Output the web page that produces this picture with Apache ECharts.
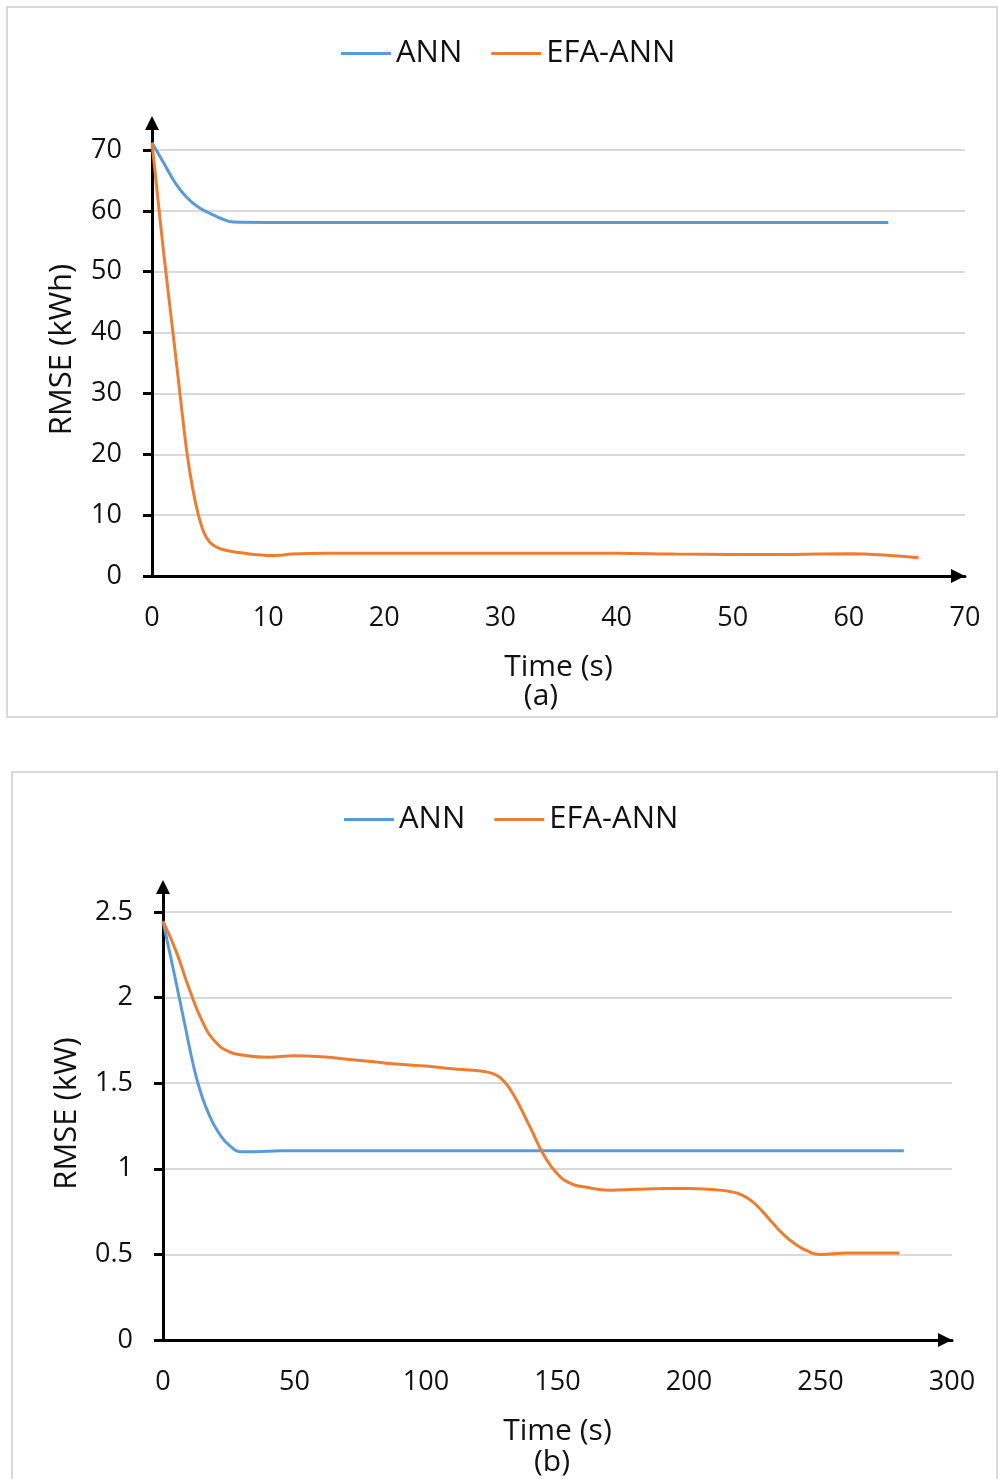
<!DOCTYPE html>
<html>
<head>
<meta charset="utf-8">
<script src="https://cdn.jsdelivr.net/npm/echarts@6/dist/echarts.min.js"></script>
<style>
  html, body { margin: 0; padding: 0; background: #ffffff; }
  #chart { width: 998px; height: 1479px; }
</style>
</head>
<body>
<div id="chart"></div>
<script>
// ---- Panel (a): RMSE (kWh) against time ----
const annTimeA = [0, 1, 2, 3, 4, 5, 6, 7, 10, 20, 30, 40, 50, 60, 63.4];
const annRmseA = [71.2, 67.9, 64.6, 62.2, 60.6, 59.6, 58.7, 58.15, 58.1, 58.1, 58.1, 58.1, 58.1, 58.1, 58.1];
const efaTimeA = [0, 1, 2, 2.5, 3, 3.5, 4, 4.5, 5, 5.5, 6, 7, 8, 9, 10, 11, 12, 15, 20, 30, 40, 45, 50, 55, 60, 63, 66];
const efaRmseA = [71.2, 53.2, 36.8, 28.4, 20.4, 14.4, 10.0, 7.0, 5.5, 4.8, 4.4, 4.0, 3.75, 3.5, 3.35, 3.4, 3.6, 3.75, 3.75, 3.75, 3.75, 3.6, 3.55, 3.55, 3.65, 3.45, 3.0];

// ---- Panel (b): RMSE (kW) against time ----
const annTimeB = [0, 4, 8, 12, 15, 18, 21, 25, 30, 35, 45, 100, 150, 200, 250, 281.7];
const annRmseB = [2.445, 2.16, 1.865, 1.575, 1.415, 1.30, 1.215, 1.14, 1.10, 1.10, 1.105, 1.105, 1.105, 1.105, 1.105, 1.105];
const efaTimeB = [0, 5, 10, 15, 20, 25, 30, 40, 50, 60, 70, 80, 90, 100, 110, 118, 123, 127, 130, 133, 136, 140, 145, 150, 155, 160, 170, 180, 190, 200, 210, 216, 220, 224, 228, 232, 236, 240, 245, 250, 260, 270, 280];
const efaRmseB = [2.447, 2.27, 2.05, 1.86, 1.74, 1.685, 1.665, 1.652, 1.66, 1.655, 1.64, 1.625, 1.61, 1.60, 1.585, 1.575, 1.566, 1.545, 1.505, 1.44, 1.355, 1.23, 1.075, 0.97, 0.915, 0.895, 0.875, 0.88, 0.885, 0.885, 0.877, 0.866, 0.848, 0.81, 0.75, 0.68, 0.615, 0.565, 0.52, 0.50, 0.508, 0.508, 0.508];

// ---- Axis settings ----
const xAxisA = { min: 0, max: 70, step: 10 };
const yAxisA = { min: 0, max: 70, step: 10 };
const xAxisB = { min: 0, max: 300, step: 50 };
const yAxisB = { min: 0, max: 2.5, step: 0.5 };

const seriesNames = ['ANN', 'EFA-ANN'];
const seriesColors = ['#5b9bd5', '#ed7d31'];
const labelsText = { xName: 'Time (s)', yNameA: 'RMSE (kWh)', yNameB: 'RMSE (kW)', tagA: '(a)', tagB: '(b)' };

const FONT = '"Open Sans", "Noto Sans", sans-serif';
const INK = '#111111';
const GRID_COLOR = '#d9d9d9';

function pairs(t, v) { return t.map((x, i) => [x, v[i]]); }

function mainX(cfg, gridIndex) {
  return {
    type: 'value', gridIndex, min: cfg.min, max: cfg.max, interval: cfg.step,
    name: labelsText.xName, nameLocation: 'middle', nameGap: 76,
    nameTextStyle: { fontFamily: FONT, fontSize: 30, color: INK },
    axisLine: { show: true, onZero: false, symbol: ['none', 'triangle'], symbolSize: [14, 14], symbolOffset: [0, -7],
      lineStyle: { color: '#000', width: 3 } },
    axisTick: { show: false },
    axisLabel: { fontFamily: FONT, fontSize: 27, color: INK, margin: 29 },
    splitLine: { show: false }
  };
}
function mainY(cfg, gridIndex) {
  return {
    type: 'value', gridIndex, min: cfg.min, max: cfg.max, interval: cfg.step,
    axisLine: { show: false },
    axisTick: { show: true, length: 9, lineStyle: { color: '#000', width: 3 } },
    axisLabel: { fontFamily: FONT, fontSize: 27, color: INK, margin: 30 },
    splitLine: { show: true, lineStyle: { color: GRID_COLOR, width: 2 } }
  };
}
// Overlay axis that only carries the extended vertical axis line, its arrow and the name
function arrowY(name, gap, gridIndex) {
  return {
    type: 'value', gridIndex, min: 0, max: 1,
    name, nameLocation: 'middle', nameGap: gap,
    nameTextStyle: { fontFamily: FONT, fontSize: 31, color: INK },
    axisLine: { show: true, onZero: false, symbol: ['none', 'triangle'], symbolSize: [14, 14],
      lineStyle: { color: '#000', width: 3 } },
    axisTick: { show: false }, axisLabel: { show: false }, splitLine: { show: false }
  };
}
function hiddenX(gridIndex) {
  return { type: 'value', gridIndex, min: 0, max: 1, show: false };
}
function lineSeries(name, color, data, axisIndex, smooth) {
  return {
    type: 'line', name, data, xAxisIndex: axisIndex, yAxisIndex: axisIndex,
    smooth, symbol: 'none', clip: false,
    lineStyle: { color, width: 3 }, itemStyle: { color }, z: 3
  };
}
function legendAt(left, top) {
  return {
    data: seriesNames, left, top, padding: 0, itemWidth: 50, itemHeight: 14, itemGap: 29,
    icon: 'path://M0,5.5 L50,5.5 L50,8.5 L0,8.5 Z',
    textStyle: { fontFamily: FONT, fontSize: 31, color: INK }
  };
}

const chart = echarts.init(document.getElementById('chart'), null, { renderer: 'canvas' });

chart.setOption({
  backgroundColor: '#ffffff',
  animation: false,
  legend: [legendAt(341, 38), legendAt(344, 804)],
  grid: [
    { left: 152, right: 33, top: 150, bottom: 903 },
    { left: 152, right: 33, top: 123, bottom: 903 },
    { left: 163, right: 46, top: 912, bottom: 139 },
    { left: 163, right: 46, top: 887, bottom: 139 }
  ],
  xAxis: [mainX(xAxisA, 0), hiddenX(1), mainX(xAxisB, 2), hiddenX(3)],
  yAxis: [mainY(yAxisA, 0), arrowY(labelsText.yNameA, 74, 1), mainY(yAxisB, 2), arrowY(labelsText.yNameB, 80, 3)],
  series: [
    lineSeries(seriesNames[0], seriesColors[0], pairs(annTimeA, annRmseA), 0, 0.4),
    lineSeries(seriesNames[1], seriesColors[1], pairs(efaTimeA, efaRmseA), 0, 0.3),
    lineSeries(seriesNames[0], seriesColors[0], pairs(annTimeB, annRmseB), 2, 0.5),
    lineSeries(seriesNames[1], seriesColors[1], pairs(efaTimeB, efaRmseB), 2, 0.5)
  ],
  graphic: [
    { type: 'rect', shape: { x: 7, y: 7, width: 990, height: 710 },
      style: { fill: 'none', stroke: GRID_COLOR, lineWidth: 2 }, silent: true, z: -1 },
    { type: 'rect', shape: { x: 12, y: 772, width: 985, height: 720 },
      style: { fill: 'none', stroke: GRID_COLOR, lineWidth: 2 }, silent: true, z: -1 },
    { type: 'text', x: 541, y: 696, style: { text: labelsText.tagA, font: '30px ' + FONT, fill: INK, textAlign: 'center', textVerticalAlign: 'middle' } },
    { type: 'text', x: 552, y: 1462, style: { text: labelsText.tagB, font: '30px ' + FONT, fill: INK, textAlign: 'center', textVerticalAlign: 'middle' } }
  ]
});
</script>
</body>
</html>
